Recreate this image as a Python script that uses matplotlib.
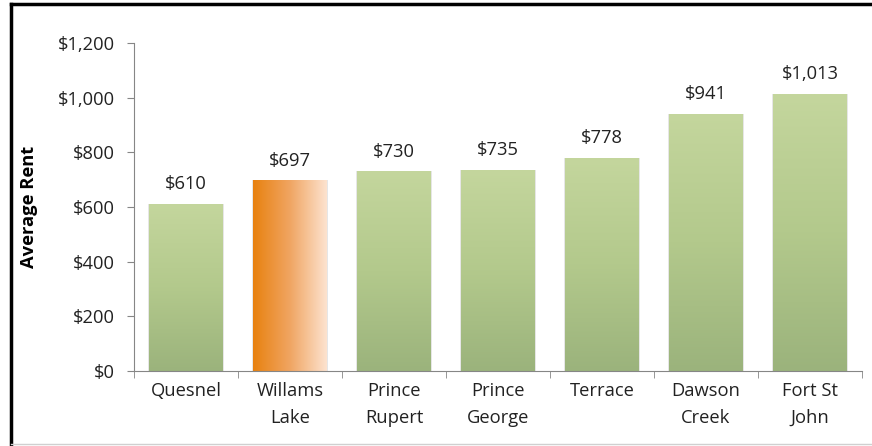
import matplotlib.pyplot as plt
import numpy as np
from matplotlib.lines import Line2D
from matplotlib.colors import LinearSegmentedColormap

plt.rcParams['font.family'] = ['Open Sans', 'DejaVu Sans']

cidades = ["Quesnel", "Willams\nLake", "Prince\nRupert", "Prince\nGeorge",
           "Terrace", "Dawson\nCreek", "Fort St\nJohn"]
aluguel = [610, 697, 730, 735, 778, 941, 1013]
destaque = 1
yticks = [0, 200, 400, 600, 800, 1000, 1200]

verde = LinearSegmentedColormap.from_list("verde", ["#9bb37c", "#b3c98c", "#c4d69d"])
laranja = LinearSegmentedColormap.from_list("laranja", ["#e8810f", "#f0a562", "#fde3cf"])

fs = 13.2
fig = plt.figure(figsize=(8.72, 4.46), dpi=100)
ax = fig.add_axes([134 / 872, 1 - 371 / 446, 728 / 872, 328 / 446])

x = np.arange(len(cidades))
barras = ax.bar(x, aluguel, width=0.71, color="none", edgecolor="none", zorder=2)

grad_v = np.linspace(0, 1, 256).reshape(-1, 1)
grad_h = np.linspace(0, 1, 256).reshape(1, -1)
for i, b in enumerate(barras):
    x0, y0 = b.get_x(), b.get_y()
    w, h = b.get_width(), b.get_height()
    # sombra leve
    ax.bar(x0 + w / 2, h, width=w * 1.03, color="#e6e6e6", zorder=1)
    if i == destaque:
        img = ax.imshow(grad_h, cmap=laranja, aspect="auto",
                        extent=(x0, x0 + w, y0, y0 + h), origin="lower", zorder=2)
    else:
        img = ax.imshow(grad_v, cmap=verde, aspect="auto",
                        extent=(x0, x0 + w, y0, y0 + h), origin="lower", zorder=2)
    img.set_clip_path(b)
    ax.text(x0 + w / 2, h + 40, f"${aluguel[i]:,}", ha="center", va="bottom",
            fontsize=fs, color="#222222")

ax.set_xlim(-0.5, len(cidades) - 0.5)
ax.set_ylim(0, 1200)
ax.set_yticks(yticks)
ax.set_yticklabels([f"${v:,}" for v in yticks], fontsize=fs, color="#222222")
ax.set_xticks(x)
ax.set_xticklabels(cidades, fontsize=fs, color="#222222", linespacing=1.65)
ax.set_xticks(np.arange(-0.5, len(cidades)), minor=True)
ax.tick_params(axis="x", which="major", length=0, pad=8)
ax.tick_params(axis="x", which="minor", length=5, color="#868686")
ax.tick_params(axis="y", length=5, color="#868686", pad=9)
ax.set_ylabel("Average Rent", fontsize=fs, fontweight="bold", labelpad=14)

for lado in ["top", "right"]:
    ax.spines[lado].set_visible(False)
for lado in ["left", "bottom"]:
    ax.spines[lado].set_color("#868686")

# moldura da captura
fig.add_artist(Line2D([11 / 872, 11 / 872], [0, 1 - 4 / 446], color="black", lw=2.5,
                      transform=fig.transFigure))
fig.add_artist(Line2D([11 / 872, 1], [1 - 4 / 446, 1 - 4 / 446], color="black", lw=2.5,
                      transform=fig.transFigure))
fig.add_artist(Line2D([11 / 872, 1], [2 / 446, 2 / 446], color="#d0d0d0", lw=1,
                      transform=fig.transFigure))

plt.savefig("out.png", dpi=100)
plt.close()
